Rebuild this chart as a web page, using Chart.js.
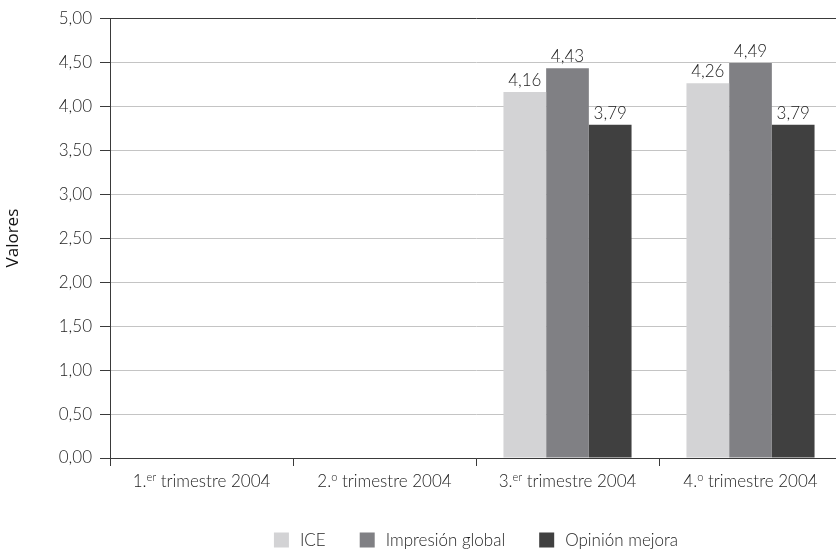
<!DOCTYPE html>
<html>
<head>
<meta charset="utf-8">
<script src="https://cdn.jsdelivr.net/npm/chart.js@4.4.1/dist/chart.umd.min.js"></script>
<style>
  html, body { margin: 0; padding: 0; background: #ffffff; overflow: hidden; }
  #wrap { width: 836px; height: 554px; overflow: hidden; }
  #c { display: block; }
</style>
</head>
<body>
<div id="wrap"><canvas id="c" width="842" height="554"></canvas></div>
<script>
// Quarter labels: ordinal number, raised suffix, rest of the text
const quarterNumbers = ['1.', '2.', '3.', '4.'];
const quarterSuffixes = ['er', 'o', 'er', 'o'];
const quarterText = 'trimestre 2004';
const categories = quarterNumbers.map((n, i) => n + quarterSuffixes[i] + ' ' + quarterText);

// Series values (no data for the first two quarters)
const iceValues = [null, null, 4.16, 4.26];
const impresionValues = [null, null, 4.43, 4.49];
const opinionValues = [null, null, 3.79, 3.79];

const seriesNames = ['ICE', 'Impresión global', 'Opinión mejora'];
const seriesColors = ['#d3d3d5', '#808084', '#404040'];

// Y axis ticks
const yMin = 0, yMax = 5, yStep = 0.5;

const FONT = 'Lato';
const SIZE = 17;
const TEXT = '#1e1e1e';
const DARK = '#3a3a3a';
const fmt = v => v.toFixed(2).replace('.', ',');

// Value labels above each bar
const valueLabels = {
  id: 'valueLabels',
  afterDatasetsDraw(chart) {
    const ctx = chart.ctx;
    ctx.save();
    ctx.font = '300 ' + SIZE + 'px ' + FONT;
    ctx.fillStyle = TEXT;
    ctx.textAlign = 'center';
    ctx.textBaseline = 'alphabetic';
    chart.data.datasets.forEach((ds, di) => {
      const meta = chart.getDatasetMeta(di);
      meta.data.forEach((el, i) => {
        const v = ds.data[i];
        if (v == null) return;
        ctx.fillText(fmt(v), el.x, el.y - 6);
      });
    });
    ctx.restore();
  }
};

// Category labels with raised ordinal suffix
const quarterLabels = {
  id: 'quarterLabels',
  afterDraw(chart) {
    const ctx = chart.ctx;
    const xs = chart.scales.x;
    const base = xs.top + 29;
    const main = '300 ' + SIZE + 'px ' + FONT;
    const sup = '300 11px ' + FONT;
    ctx.save();
    ctx.fillStyle = TEXT;
    ctx.textBaseline = 'alphabetic';
    ctx.textAlign = 'left';
    categories.forEach((c, i) => {
      ctx.font = main;
      const wNum = ctx.measureText(quarterNumbers[i]).width;
      const wRest = ctx.measureText(' ' + quarterText).width;
      ctx.font = sup;
      const wSup = ctx.measureText(quarterSuffixes[i]).width;
      const total = wNum + wSup + wRest;
      let x = xs.getPixelForValue(i) - total / 2;
      ctx.font = main;
      ctx.fillText(quarterNumbers[i], x, base);
      x += wNum;
      ctx.font = sup;
      ctx.fillText(quarterSuffixes[i], x, base - 6);
      x += wSup;
      ctx.font = main;
      ctx.fillText(' ' + quarterText, x, base);
    });
    ctx.restore();
  }
};

// Legend centred under the plot area
const bottomLegend = {
  id: 'bottomLegend',
  afterDraw(chart) {
    const ctx = chart.ctx;
    const area = chart.chartArea;
    const box = 15, gapText = 11, gapItem = 34;
    const y = 540;
    ctx.save();
    ctx.font = '300 ' + SIZE + 'px ' + FONT;
    ctx.textBaseline = 'middle';
    ctx.textAlign = 'left';
    const widths = chart.data.datasets.map(ds => box + gapText + ctx.measureText(ds.label).width);
    const total = widths.reduce((a, b) => a + b, 0) + gapItem * (widths.length - 1);
    let x = (area.left + area.right) / 2 - total / 2;
    chart.data.datasets.forEach((ds, i) => {
      ctx.fillStyle = ds.backgroundColor;
      ctx.fillRect(x, y - box / 2, box, box);
      ctx.fillStyle = TEXT;
      ctx.fillText(ds.label, x + box + gapText, y + 1);
      x += widths[i] + gapItem;
    });
    ctx.restore();
  }
};

const valueSeries = [iceValues, impresionValues, opinionValues];

new Chart(document.getElementById('c'), {
  type: 'bar',
  data: {
    labels: categories,
    datasets: valueSeries.map((vals, i) => ({
      label: seriesNames[i],
      data: vals,
      backgroundColor: seriesColors[i],
      borderWidth: 0,
      categoryPercentage: 0.7,
      barPercentage: 1.0
    }))
  },
  options: {
    responsive: false,
    animation: false,
    devicePixelRatio: 1,
    layout: { padding: { top: 17, right: 0, bottom: 56, left: 0 } },
    plugins: {
      legend: { display: false },
      tooltip: { enabled: false }
    },
    scales: {
      x: {
        offset: true,
        grid: {
          offset: true,
          drawOnChartArea: false,
          drawTicks: true,
          tickLength: 8,
          color: DARK,
          lineWidth: 1
        },
        border: { display: true, color: DARK, width: 1 },
        ticks: { display: false },
        afterFit(scale) { scale.height = 40; }
      },
      y: {
        min: yMin,
        max: yMax,
        ticks: {
          stepSize: yStep,
          callback: v => fmt(v),
          color: TEXT,
          font: { family: FONT, size: SIZE, weight: 300 },
          padding: 8
        },
        grid: {
          color: c => (c.tick && (c.tick.value === yMin || c.tick.value === yMax)) ? DARK : '#c4c4c4',
          tickColor: DARK,
          tickLength: 10,
          lineWidth: 1
        },
        border: { display: true, color: DARK, width: 1 },
        title: {
          display: true,
          text: 'Valores',
          color: '#111111',
          font: { family: 'Open Sans', size: 17, weight: 400 },
          padding: { top: 3, bottom: 0 }
        },
        afterFit(scale) { scale.width = 110; }
      }
    }
  },
  plugins: [valueLabels, quarterLabels, bottomLegend]
});
</script>
</body>
</html>
